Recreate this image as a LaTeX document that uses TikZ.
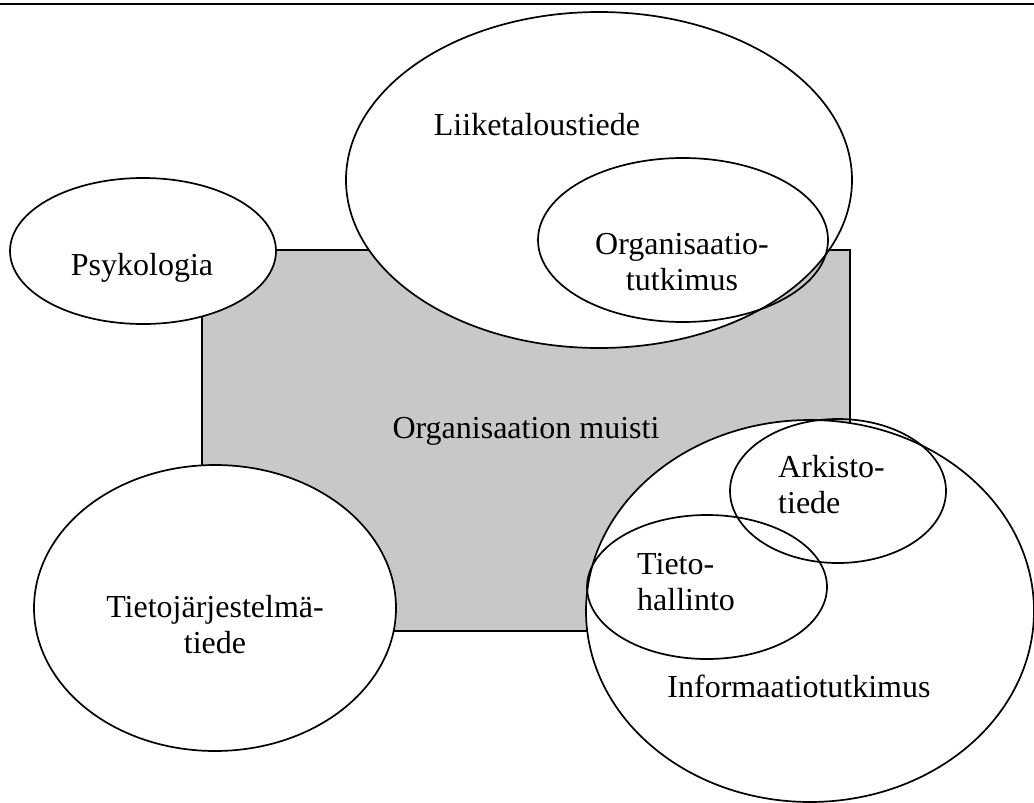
\documentclass[tikz,border=0pt]{standalone}
\usepackage{fontspec}
\setmainfont{Liberation Serif}

\definecolor{muistiharmaa}{RGB}{200,200,200}
\tikzset{
  ala/.style={black, line width=1.7pt},
  nimi/.style={inner sep=0pt, font=\fontsize{32}{36}\selectfont},
}

\begin{document}
\begin{tikzpicture}[x=1pt, y=-1pt]
  \useasboundingbox (0,0) rectangle (1034,803);
  \draw [black, line width=2.5pt] (0,4) -- (1034,4);

  % keskella oleva alue
  \draw [ala, fill=muistiharmaa] (202,250) rectangle (850,631);

  % tieteenalat
  \draw [ala, fill=white] (599,180) ellipse [x radius=253, y radius=168];
  \draw [ala] (683,240) ellipse [x radius=145, y radius=82];
  \draw [ala, fill=white] (143,251) ellipse [x radius=133, y radius=73];
  \draw [ala, fill=white] (215,608) ellipse [x radius=181, y radius=143];
  \draw [ala, fill=white] (810,611) ellipse [x radius=224, y radius=191];
  \draw [ala] (838,491) ellipse [x radius=108, y radius=72];
  \draw [ala] (707,587) ellipse [x radius=120, y radius=72];

  % nimet
  \node [nimi, anchor=base] (liike) at (537,135) {Liiketaloustiede};
  \node [nimi, align=center] (orgtutk) at (682,262) {Organisaatio-\\tutkimus};
  \node [nimi, anchor=base] (psyk) at (142,275) {Psykologia};
  \node [nimi, anchor=base] (muisti) at (526,438) {Organisaation muisti};
  \node [nimi, align=center] (tjt) at (215,625) {Tietojärjestelmä-\\tiede};
  \node [nimi, align=left, anchor=west] (arkisto) at (778,485) {Arkisto-\\tiede};
  \node [nimi, align=left, anchor=west] (tieto) at (637,582) {Tieto-\\hallinto};
  \node [nimi, anchor=base] (info) at (799,697) {Informaatiotutkimus};
\end{tikzpicture}
\end{document}
